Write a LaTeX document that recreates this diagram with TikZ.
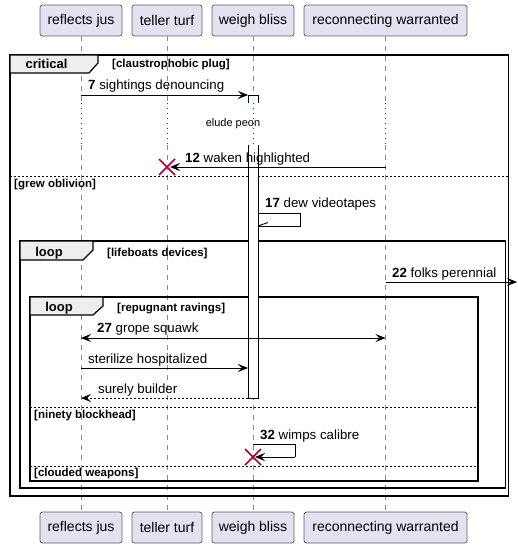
\documentclass[tikz,border=0pt]{standalone}
\usepackage{fontspec}
\setmainfont{Liberation Sans}
\usetikzlibrary{arrows.meta}

\definecolor{partfill}{HTML}{E2E2F0}
\definecolor{partline}{HTML}{5F5F66}
\definecolor{lifegray}{HTML}{8A8A8A}
\definecolor{puRed}{HTML}{A80036}
\definecolor{tabfill}{HTML}{EEEEEE}

\tikzset{
  participant/.style={draw=partline, fill=partfill, rounded corners=2.5pt,
    minimum height=31pt, inner sep=0pt, line width=0.8pt,
    font=\fontsize{14}{16}\selectfont},
  lifeline/.style={draw=lifegray, dash pattern=on 5pt off 5pt, line width=0.8pt},
  delayline/.style={draw=puRed, dash pattern=on 1pt off 4pt, line width=0.9pt},
  puhead/.tip={Stealth[length=10pt,width=8pt,inset=4pt]},
  msg/.style={draw=black, line width=0.9pt, -puhead},
  bimsg/.style={draw=black, line width=0.9pt, puhead-puhead},
  retmsg/.style={draw=black, line width=0.9pt, dash pattern=on 2pt off 2pt, -puhead},
  selfline/.style={draw=black, line width=0.9pt},
  msglabel/.style={anchor=base west, inner sep=0pt, font=\fontsize{13.3}{15}\selectfont},
  delaylabel/.style={anchor=base, inner sep=0pt, font=\fontsize{11}{13}\selectfont},
  frameline/.style={draw=black, line width=1.5pt},
  grouptab/.style={fill=tabfill, draw=black, line width=1.2pt},
  grouptitle/.style={anchor=base, inner sep=0pt, font=\bfseries\fontsize{13}{15}\selectfont},
  guard/.style={anchor=base west, inner sep=0pt, font=\bfseries\fontsize{11.5}{13}\selectfont},
  separator/.style={draw=black, dash pattern=on 2pt off 2pt, line width=0.8pt},
  destroy/.style={draw=puRed, line width=1.5pt},
  activation/.style={draw=black, line width=0.9pt},
}

\begin{document}
\begin{tikzpicture}[x=1pt,y=-1pt]
\useasboundingbox (0,0) rectangle (517,548);

% participants, top and bottom
\node[participant, minimum width=82pt]  (pA) at (81,20.5)    {reflects jus};
\node[participant, minimum width=70pt]  (pB) at (167,20.5)   {teller turf};
\node[participant, minimum width=82pt]  (pC) at (253,20.5)   {weigh bliss};
\node[participant, minimum width=163pt] (pD) at (385.5,20.5) {reconnecting warranted};
\node[participant, minimum width=82pt]  (qA) at (81,527.5)    {reflects jus};
\node[participant, minimum width=70pt]  (qB) at (167,527.5)   {teller turf};
\node[participant, minimum width=82pt]  (qC) at (253,527.5)   {weigh bliss};
\node[participant, minimum width=163pt] (qD) at (385.5,527.5) {reconnecting warranted};

% lifelines, interrupted by the delay
\foreach \p/\q/\x in {pA/qA/81, pB/qB/167, pC/qC/253, pD/qD/385.5}{
  \coordinate (\p d1) at (\x,103);
  \coordinate (\p d2) at (\x,145);
  \draw[lifeline] (\p.south) -- (\p d1);
  \draw[delayline] (\p d1) -- (\p d2);
  \draw[lifeline] (\p d2) -- (\q.north);
}
\node[delaylabel] (delay) at (233,127) {elude peon};

% critical group
\draw[frameline] (10,55) rectangle (508.5,496);
\draw[grouptab] (10,55) -- (98,55) -- (98,63) -- (89,73) -- (10,73) -- cycle;
\node[grouptitle] (gcrit) at (46.5,68.3) {critical};
\node[guard] (gcritg) at (112,68) {[claustrophobic plug]};
\draw[separator] (10,176) -- (508.5,176);
\node[guard] (gelse1) at (14,187) {[grew oblivion]};

% outer loop
\draw[frameline] (20,241) rectangle (505.5,488);
\draw[grouptab] (20,241) -- (93,241) -- (93,250) -- (83,260) -- (20,260) -- cycle;
\node[grouptitle] (gloop1) at (49,256) {loop};
\node[guard] (gloop1g) at (107,256) {[lifeboats devices]};

% inner loop
\draw[frameline] (30,297) rectangle (478,481);
\draw[grouptab] (30,297) -- (103,297) -- (103,306) -- (93,315) -- (30,315) -- cycle;
\node[grouptitle] (gloop2) at (59,311.5) {loop};
\node[guard] (gloop2g) at (117,311.5) {[repugnant ravings]};
\draw[separator] (30,407) -- (478,407);
\node[guard] (gelse2) at (34,418) {[ninety blockhead]};
\draw[separator] (30,466) -- (478,466);
\node[guard] (gelse3) at (34,476.5) {[clouded weapons]};

% activation of weigh bliss
\fill[white] (248,95) rectangle (258,103);
\draw[activation] (248,103) -- (248,95) -- (258,95) -- (258,103);
\fill[white] (248,145) rectangle (258,398);
\draw[activation] (248,145) -- (248,398) -- (258,398) -- (258,145);

% message 7
\coordinate (m7a) at (81,95);
\coordinate (m7b) at (248,95);
\draw[msg] (m7a) -- (m7b);
\node[msglabel] (l7) at (88,90) {\textbf{7} sightings denouncing};

% message 12 with destruction of teller turf
\coordinate (m12a) at (385.5,167);
\coordinate (m12b) at (170,167);
\draw[msg] (m12a) -- (m12b);
\node[msglabel] (l12) at (185,162) {\textbf{12} waken highlighted};
\draw[destroy] (159,159) -- (175,175) (159,175) -- (175,159);

% message 17, self call
\coordinate (m17a) at (258,213);
\coordinate (m17b) at (258,226);
\draw[selfline] (m17a) -- (300,213) -- (300,226) -- (m17b);
\draw[selfline] (m17b) -- (268,222.5);
\node[msglabel] (l17) at (265,207.5) {\textbf{17} dew videotapes};

% message 22, leaving to the right
\coordinate (m22a) at (385.5,282);
\coordinate (m22b) at (517,282);
\draw[msg] (m22a) -- (m22b);
\node[msglabel] (l22) at (392,277.5) {\textbf{22} folks perennial};

% message 27, both ways
\coordinate (m27a) at (81,338);
\coordinate (m27b) at (385.5,338);
\draw[bimsg] (m27a) -- (m27b);
\node[msglabel] (l27) at (97,332.5) {\textbf{27} grope squawk};

% call and return
\coordinate (m28a) at (81,368);
\coordinate (m28b) at (248,368);
\draw[msg] (m28a) -- (m28b);
\node[msglabel] (l28) at (88,363) {sterilize hospitalized};
\coordinate (m29a) at (248,398);
\coordinate (m29b) at (81,398);
\draw[retmsg] (m29a) -- (m29b);
\node[msglabel] (l29) at (98,393) {surely builder};

% message 32, self call ending in destruction
\coordinate (m32a) at (253,444);
\coordinate (m32b) at (255,457);
\draw[selfline] (m32a) -- (295,444) -- (295,457);
\draw[msg] (295,457) -- (m32b);
\node[msglabel] (l32) at (260,439) {\textbf{32} wimps calibre};
\draw[destroy] (245,449) -- (261,465) (245,465) -- (261,449);
\end{tikzpicture}
\end{document}
